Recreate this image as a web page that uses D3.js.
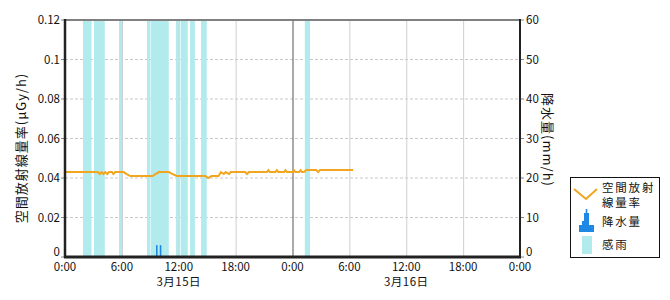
<!DOCTYPE html>
<html>
<head>
<meta charset="utf-8">
<script src="https://cdn.jsdelivr.net/npm/d3@7"></script>
<style>
  body { margin: 0; background: #fff; }
  svg text { font-family: "Noto Sans CJK JP", "Noto Sans", sans-serif; fill: #111; }
</style>
</head>
<body>
<svg id="chart" width="670" height="300"></svg>
<script>
// 空間放射線量率 (hours from 3/15 0:00, µGy/h)
const doseHours = [0, 3.45, 3.65, 3.85, 4.05, 4.25, 4.45, 4.65, 4.95, 5.1, 5.3, 6.2, 6.5, 6.9,
  9.25, 9.55, 9.9, 10.95, 11.35, 11.8, 14.8, 15.1, 15.45, 16.2, 16.45, 16.75, 16.95, 17.3, 17.5,
  19.0, 19.2, 19.4, 21.3, 21.45, 21.6, 22.2, 22.35, 22.5, 23.1, 23.25, 23.4, 24.0, 24.15, 24.3,
  24.7, 24.85, 25.0, 25.2, 25.45, 26.5, 26.7, 26.9, 30.4];
const doseValues = [0.043, 0.043, 0.042, 0.043, 0.042, 0.043, 0.042, 0.043, 0.043, 0.042, 0.043, 0.043, 0.042, 0.041,
  0.041, 0.042, 0.043, 0.043, 0.042, 0.041, 0.041, 0.040, 0.041, 0.041, 0.043, 0.042, 0.043, 0.042, 0.043,
  0.043, 0.042, 0.043, 0.043, 0.044, 0.043, 0.043, 0.044, 0.043, 0.043, 0.044, 0.043, 0.043, 0.044, 0.043,
  0.043, 0.044, 0.043, 0.043, 0.044, 0.044, 0.043, 0.044, 0.044];

// 降水量 (start hour, mm/h), 10 minute bars
const rainHours = [9.6, 10.0];
const rainValues = [3, 3];

// 感雨 periods [start, end] in hours
const wetStart = [1.9, 3.05, 5.7, 8.65, 9.05, 11.7, 12.2, 13.2, 14.35, 25.3];
const wetEnd = [2.8, 4.2, 6.1, 9.0, 10.95, 12.05, 12.95, 13.7, 14.95, 25.85];

const leftTicks = [0, 0.02, 0.04, 0.06, 0.08, 0.1, 0.12];
const leftTickLabels = ["0", "0.02", "0.04", "0.06", "0.08", "0.1", "0.12"];
const rightTicks = [0, 10, 20, 30, 40, 50, 60];
const hourTicks = [0, 6, 12, 18, 24, 30, 36, 42, 48];
const hourTickLabels = ["0:00", "6:00", "12:00", "18:00", "0:00", "6:00", "12:00", "18:00", "0:00"];
const dateHours = [12, 36];
const dateLabels = ["3月15日", "3月16日"];

const vis = {

    frame : {
        left : 65,
        right : 520,
        top : 20,
        bottom : 257
    },

    tickFont : 11.5,

    scales : {
        x : null,
        yDose : null,
        yRain : null,

        build : function() {
            const f = vis.frame;
            this.x = d3.scaleLinear().domain([0, 48]).range([f.left, f.right]);
            this.yDose = d3.scaleLinear().domain([0, 0.12]).range([f.bottom, f.top]);
            this.yRain = d3.scaleLinear().domain([0, 60]).range([f.bottom, f.top]);
        }
    },

    grid : {
        draw : function(svg) {
            const s = vis.scales, f = vis.frame;

            svg.append('g')
              .selectAll('line')
              .data(leftTicks.slice(1, -1))
              .join('line')
              .attr('x1', f.left)
              .attr('x2', f.right)
              .attr('y1', d => s.yDose(d))
              .attr('y2', d => s.yDose(d))
              .attr('stroke', '#c8c8c8')
              .attr('stroke-dasharray', '3,2');
        },

        drawVertical : function(svg) {
            const s = vis.scales, f = vis.frame;

            svg.append('g')
              .selectAll('line')
              .data(hourTicks.slice(1, -1))
              .join('line')
              .attr('x1', d => s.x(d) + 0.5)
              .attr('x2', d => s.x(d) + 0.5)
              .attr('y1', f.top)
              .attr('y2', f.bottom)
              .attr('stroke', d => d === 24 ? '#555' : '#cfcfcf');
        }
    },

    wet : {
        draw : function(svg) {
            const s = vis.scales, f = vis.frame;

            svg.append('g')
              .selectAll('rect')
              .data(wetStart.map((d, i) => [d, wetEnd[i]]))
              .join('rect')
              .attr('x', d => s.x(d[0]))
              .attr('width', d => s.x(d[1]) - s.x(d[0]))
              .attr('y', f.top)
              .attr('height', f.bottom - f.top)
              .attr('fill', '#b2ebee');
        }
    },

    rain : {
        draw : function(svg) {
            const s = vis.scales;

            svg.append('g')
              .selectAll('rect')
              .data(rainHours.map((d, i) => [d, rainValues[i]]))
              .join('rect')
              .attr('x', d => s.x(d[0]))
              .attr('width', d => s.x(d[0] + 1 / 6) - s.x(d[0]))
              .attr('y', d => s.yRain(d[1]))
              .attr('height', d => s.yRain(0) - s.yRain(d[1]))
              .attr('fill', '#1e88e5');
        }
    },

    dose : {
        draw : function(svg) {
            const s = vis.scales;

            const line = d3.line()
              .x(d => s.x(d[0]))
              .y(d => s.yDose(d[1]));

            svg.append('path')
              .datum(doseHours.map((d, i) => [d, doseValues[i]]))
              .attr('d', line)
              .attr('fill', 'none')
              .attr('stroke', '#f2a51f')
              .attr('stroke-width', 2);
        }
    },

    axes : {
        draw : function(svg) {
            const s = vis.scales, f = vis.frame, fs = vis.tickFont;

            // left
            svg.append('g')
              .selectAll('text')
              .data(leftTicks)
              .join('text')
              .attr('x', f.left - 5)
              .attr('y', d => d === 0 ? s.yDose(d) - 1 : s.yDose(d) + 4)
              .attr('text-anchor', 'end')
              .attr('font-size', fs)
              .text((d, i) => leftTickLabels[i]);

            svg.append('g')
              .selectAll('line')
              .data(leftTicks)
              .join('line')
              .attr('x1', f.left - 4)
              .attr('x2', f.left)
              .attr('y1', d => s.yDose(d))
              .attr('y2', d => s.yDose(d))
              .attr('stroke', '#888');

            // right
            svg.append('g')
              .selectAll('text')
              .data(rightTicks)
              .join('text')
              .attr('x', f.right + 6)
              .attr('y', d => d === 0 ? s.yRain(d) - 1 : s.yRain(d) + 4)
              .attr('font-size', fs)
              .text(d => d);

            svg.append('g')
              .selectAll('line')
              .data(rightTicks)
              .join('line')
              .attr('x1', f.right)
              .attr('x2', f.right + 4)
              .attr('y1', d => s.yRain(d))
              .attr('y2', d => s.yRain(d))
              .attr('stroke', '#888');

            // bottom
            svg.append('g')
              .selectAll('text')
              .data(hourTicks)
              .join('text')
              .attr('x', d => s.x(d))
              .attr('y', f.bottom + 14)
              .attr('text-anchor', 'middle')
              .attr('font-size', fs)
              .text((d, i) => hourTickLabels[i]);

            svg.append('g')
              .selectAll('text')
              .data(dateHours)
              .join('text')
              .attr('x', d => s.x(d))
              .attr('y', f.bottom + 29)
              .attr('text-anchor', 'middle')
              .attr('font-size', fs)
              .attr('letter-spacing', 0.5)
              .text((d, i) => dateLabels[i]);

            // frame
            svg.append('line')
              .attr('x1', f.left).attr('x2', f.right)
              .attr('y1', f.top).attr('y2', f.top)
              .attr('stroke', '#808080').attr('stroke-width', 2);

            svg.append('line')
              .attr('x1', f.left).attr('x2', f.left)
              .attr('y1', f.top - 1).attr('y2', f.bottom + 1)
              .attr('stroke', '#222').attr('stroke-width', 2.5);

            svg.append('line')
              .attr('x1', f.right).attr('x2', f.right)
              .attr('y1', f.top - 1).attr('y2', f.bottom + 1)
              .attr('stroke', '#222').attr('stroke-width', 2);

            svg.append('line')
              .attr('x1', f.left - 1).attr('x2', f.right + 1)
              .attr('y1', f.bottom).attr('y2', f.bottom)
              .attr('stroke', '#222').attr('stroke-width', 3);

            // titles
            svg.append('text')
              .attr('transform', 'translate(26,148) rotate(-90)')
              .attr('text-anchor', 'middle')
              .attr('font-size', 13)
              .attr('letter-spacing', 1)
              .text('空間放射線量率(μGy/h)');

            svg.append('text')
              .attr('transform', 'translate(543,140) rotate(90)')
              .attr('text-anchor', 'middle')
              .attr('font-size', 13)
              .attr('letter-spacing', 1)
              .text('降水量(mm/h)');
        }
    },

    legend : {
        draw : function(svg) {
            const g = svg.append('g');

            g.append('rect')
              .attr('x', 570.5).attr('y', 177.5)
              .attr('width', 89).attr('height', 80)
              .attr('fill', '#fff').attr('stroke', '#111');

            g.append('path')
              .attr('d', 'M574,189 L586,199 L597,189')
              .attr('fill', 'none')
              .attr('stroke', '#f2a51f')
              .attr('stroke-width', 2);

            g.append('path')
              .attr('d', 'M579,232 L579,225 L582,225 L582,221 L584,221 L584,213 L585.7,213 L585.7,209 L587.3,209 L587.3,213 L589,213 L589,225 L594,225 L594,232 Z')
              .attr('fill', '#1e88e5');

            g.append('rect')
              .attr('x', 582).attr('y', 236)
              .attr('width', 10).attr('height', 18)
              .attr('fill', '#b2ebee');

            const items = [['空間放射', 192], ['線量率', 207], ['降水量', 226], ['感雨', 249]];

            g.selectAll('text')
              .data(items)
              .join('text')
              .attr('x', 602)
              .attr('y', d => d[1])
              .attr('font-size', 11.5)
              .attr('letter-spacing', 1.8)
              .text(d => d[0]);
        }
    },

    ctrl : {
        init : function() {
            const svg = d3.select('svg#chart');
            vis.scales.build();
            vis.grid.draw(svg);
            vis.wet.draw(svg);
            vis.grid.drawVertical(svg);
            vis.rain.draw(svg);
            vis.dose.draw(svg);
            vis.axes.draw(svg);
            vis.legend.draw(svg);
        }
    }

}

vis.ctrl.init();
</script>
</body>
</html>
